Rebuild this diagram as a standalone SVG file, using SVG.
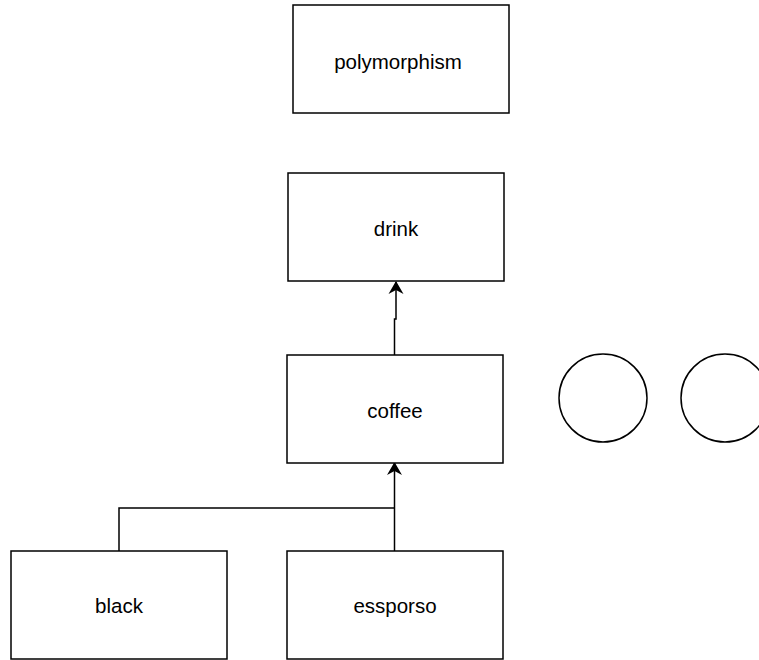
<svg xmlns="http://www.w3.org/2000/svg" width="759" height="660" viewBox="0 0 759 660">
<defs>
<style>
.box{fill:#fff;stroke:#000;stroke-width:1.5}
.lbl{font-family:"Liberation Sans",Arial,Helvetica,sans-serif;font-size:20.5px;fill:#000;text-anchor:middle;dominant-baseline:central}
.edge{fill:none;stroke:#000;stroke-width:1.5}
</style>
<marker id="arr" viewBox="0 0 13 17" refX="12" refY="8.5" markerWidth="13" markerHeight="17" markerUnits="userSpaceOnUse" orient="auto">
<path d="M0,1 L13,8.5 L0,16 L4,8.5 Z" fill="#000"/>
</marker>
</defs>
<rect width="759" height="660" fill="#fff"/>
<g id="connectors">
<path class="edge" d="M394.5,355 V319 H396 V282" marker-end="url(#arr)"/>
<path class="edge" d="M394.5,551 V463" marker-end="url(#arr)"/>
<path class="edge" d="M119,551 V508 H394.5"/>
</g>
<g id="polymorphism"><rect class="box" x="293" y="5" width="216" height="108"/><text class="lbl" x="398" y="61">polymorphism</text></g>
<g id="drink"><rect class="box" x="288" y="173" width="216" height="108"/><text class="lbl" x="396" y="228">drink</text></g>
<g id="coffee"><rect class="box" x="287" y="355" width="216" height="108"/><text class="lbl" x="395" y="410">coffee</text></g>
<g id="black"><rect class="box" x="11" y="551" width="216" height="108"/><text class="lbl" x="119" y="605">black</text></g>
<g id="essporso"><rect class="box" x="287" y="551" width="216" height="108"/><text class="lbl" x="395" y="605">essporso</text></g>
<g id="circle1"><circle class="box" cx="603" cy="398" r="44"/></g>
<g id="circle2"><circle class="box" cx="725" cy="398" r="44"/></g>
</svg>
